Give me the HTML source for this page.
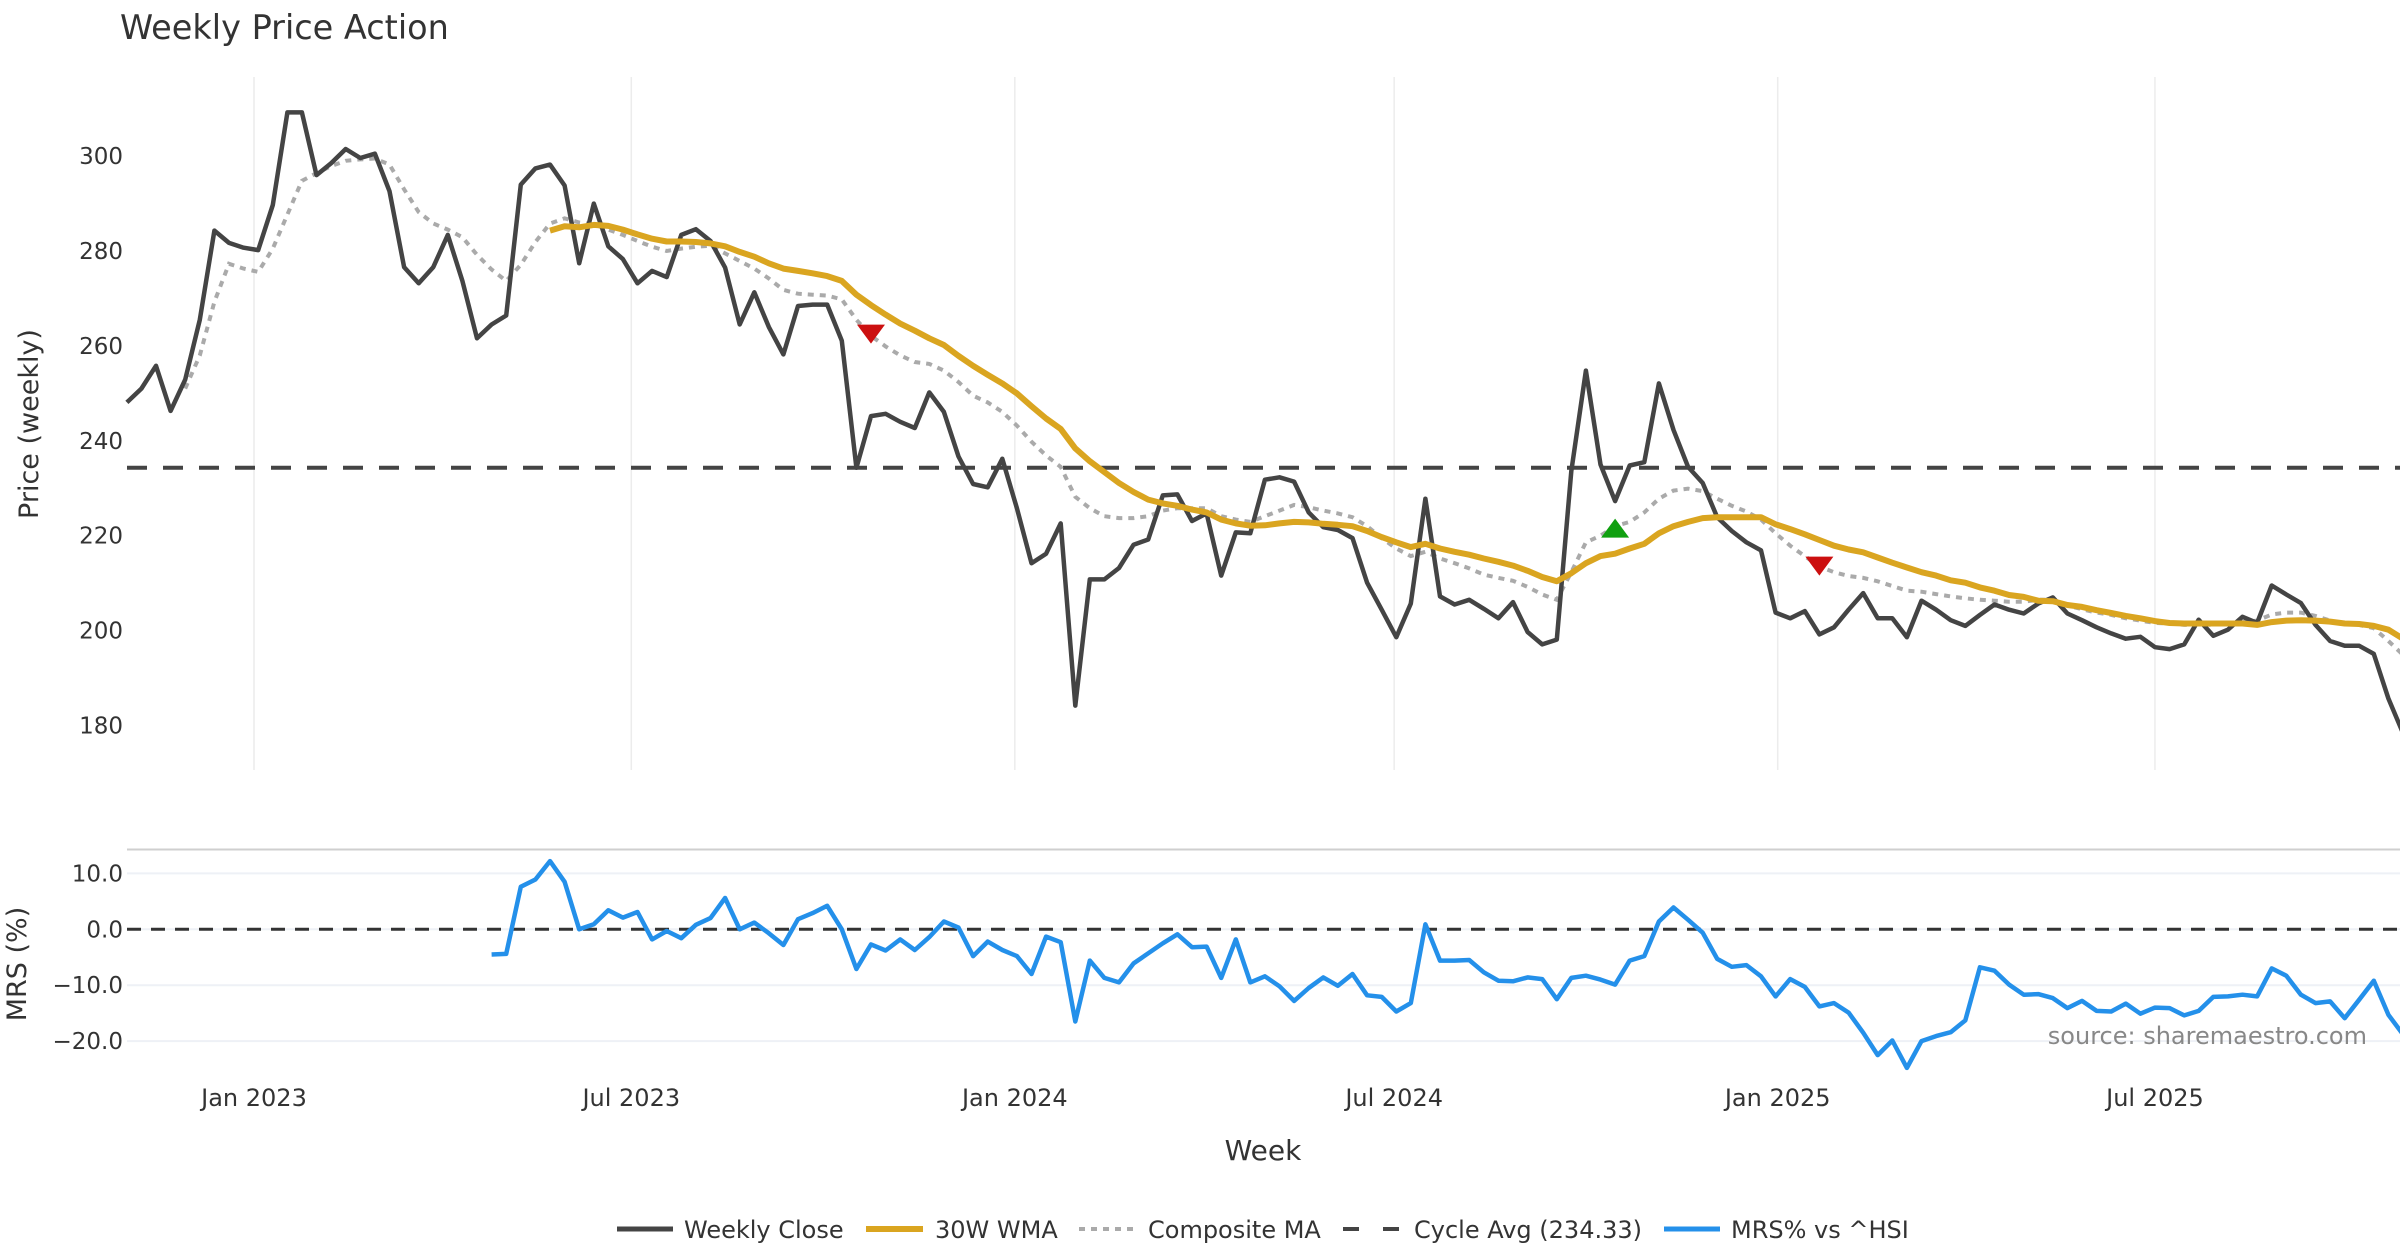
<!DOCTYPE html>
<html><head><meta charset="utf-8"><title>Weekly Price Action</title>
<style>
html,body{margin:0;padding:0;background:#fff;}
svg{display:block;font-family:"DejaVu Sans","Liberation Sans",sans-serif;}
</style></head>
<body>
<svg id="chart" width="2400" height="1260" viewBox="0 0 2400 1260" xmlns="http://www.w3.org/2000/svg">
<text x="120" y="39" font-size="33.5" fill="#333">Weekly Price Action</text>
<g id="grid"></g>
<g id="series"></g>
<g id="axes"></g>
<text transform="translate(38,424) rotate(-90)" text-anchor="middle" font-size="27" fill="#333">Price (weekly)</text>
<text transform="translate(26,964) rotate(-90)" text-anchor="middle" font-size="27" fill="#333">MRS (%)</text>
<text x="1263" y="1160" text-anchor="middle" font-size="28" fill="#333">Week</text>
<text x="2367" y="1044" text-anchor="end" font-size="24" fill="#888">source: sharemaestro.com</text>
<g id="legend">
 <g><line x1="617" y1="1229" x2="673" y2="1229" stroke="#444" stroke-width="5"/><text x="684" y="1238" font-size="24" fill="#333">Weekly Close</text></g>
 <g><line x1="866" y1="1229" x2="923" y2="1229" stroke="#DAA520" stroke-width="6"/><text x="935" y="1238" font-size="24" fill="#333">30W WMA</text></g>
 <g><line x1="1079" y1="1229" x2="1136" y2="1229" stroke="#aaa" stroke-width="4" stroke-dasharray="6,6"/><text x="1148" y="1238" font-size="24" fill="#333">Composite MA</text></g>
 <g><line x1="1343" y1="1229" x2="1399" y2="1229" stroke="#444" stroke-width="4" stroke-dasharray="16,24"/><text x="1414" y="1238" font-size="24" fill="#333">Cycle Avg (234.33)</text></g>
 <g><line x1="1664" y1="1229" x2="1720" y2="1229" stroke="#2490EA" stroke-width="5"/><text x="1731" y="1238" font-size="24" fill="#333">MRS% vs ^HSI</text></g>
</g>
</svg>
<script>
const startDate = "2022-11-01";
const closeValues = [248.1,251,255.8,246.3,252.9,265.5,284.3,281.7,280.7,280.2,289.7,309.2,309.2,296,298.5,301.5,299.6,300.5,292.6,276.6,273.2,276.6,283.4,273.7,261.6,264.5,266.4,294,297.4,298.2,293.8,277.4,290,281,278.3,273.2,275.8,274.5,283.4,284.6,282.1,276.5,264.5,271.3,264,258.2,268.4,268.7,268.7,261.1,234.3,245.2,245.7,244,242.7,250.2,246.1,236.7,230.9,230.2,236.2,225.8,214.2,216.2,222.6,184.2,210.8,210.8,213.2,218.1,219.2,228.5,228.7,223.1,224.7,211.6,220.7,220.5,231.8,232.3,231.4,224.9,221.8,221.2,219.5,210.1,204.4,198.6,205.7,227.8,207.2,205.5,206.5,204.6,202.6,206,199.7,197.1,198.1,233.6,254.8,235,227.3,234.8,235.5,252.1,242.3,234.5,231.1,223.9,221,218.6,216.9,203.8,202.6,204.1,199.2,200.7,204.4,207.9,202.6,202.6,198.6,206.3,204.4,202.2,201,203.3,205.5,204.4,203.6,205.7,207,203.6,202.2,200.7,199.4,198.3,198.7,196.5,196.1,197.1,202.3,198.9,200.2,202.9,201.6,209.5,207.6,205.8,201.2,197.8,196.8,196.8,195.1,185.7,178.4];
const wmaStart = 29;
const wmaValues = [284.3,285.2,285,285.5,285.3,284.5,283.5,282.6,282,282,281.9,281.6,281,279.8,278.8,277.4,276.3,275.8,275.3,274.7,273.7,270.8,268.6,266.6,264.7,263.2,261.6,260.2,257.9,255.8,253.9,252.1,250,247.3,244.7,242.5,238.4,235.7,233.4,231.1,229.2,227.6,226.8,226.3,225.5,224.9,223.4,222.6,222.1,222.2,222.6,222.9,222.8,222.5,222.3,222,221,219.7,218.6,217.6,218.3,217.3,216.6,216,215.2,214.5,213.7,212.6,211.3,210.4,212.1,214.2,215.7,216.2,217.3,218.3,220.5,222,222.9,223.7,223.9,223.9,223.9,223.9,222.4,221.4,220.3,219.1,217.9,217.1,216.5,215.4,214.3,213.3,212.3,211.6,210.6,210.1,209.1,208.4,207.5,207.1,206.3,206.2,205.4,205,204.3,203.7,203.1,202.6,202,201.6,201.5,201.5,201.5,201.5,201.5,201.2,201.8,202.1,202.2,202.1,201.9,201.5,201.4,201,200.2,198.3];
const compStart = 4;
const compValues = [251,258,269.3,277.3,276.3,275.6,280.5,287.7,294.8,296.4,297.9,299,299.3,299.5,298.2,293,288.2,285.8,284.5,282.9,279.2,276.1,273.7,277.1,281.9,285.8,286.9,286,285.6,284.5,283.4,282.1,280.9,280,280.5,280.9,281.1,279.5,277.9,276.3,274.2,271.8,271,270.8,270.6,269.8,265.5,262.1,259.9,258,256.6,256.2,254.8,252.4,249.5,248.1,246.1,243.2,239.8,236.9,234.5,228.2,225.8,224.1,223.7,223.7,224.1,225.3,225.8,225.8,225.8,224.1,223.4,222.9,224.1,225.3,226.5,226,225.3,224.7,223.9,222,219.5,217.3,215.7,216.6,215.2,214.2,213.1,211.8,211.1,210.5,209.2,207.6,206.5,212.3,218.6,220,222,222.9,224.9,227.8,229.5,229.9,229.4,227.8,226.3,225.1,223.4,220.5,217.9,215.7,213.5,212.3,211.5,211.1,210.4,209.4,208.4,208.2,207.7,207.2,206.8,206.5,206.3,206.1,206.1,206.5,206.5,205.3,204.5,203.8,203.3,202.6,202.1,201.6,201.5,201.2,201.3,201.2,201.6,201.8,202.1,203.4,203.8,203.8,203.1,202.1,201.4,201.2,200.5,197.8,194.9];
const mrsStart = 25;
const mrsValues = [-4.5,-4.4,7.6,8.9,12.2,8.5,0,0.9,3.4,2.1,3.1,-1.8,-0.3,-1.6,0.8,2,5.6,0,1.2,-0.7,-2.8,1.8,2.9,4.2,0,-7.1,-2.7,-3.8,-1.8,-3.7,-1.4,1.4,0.3,-4.8,-2.2,-3.7,-4.8,-8,-1.3,-2.3,-16.5,-5.6,-8.7,-9.5,-6.1,-4.3,-2.5,-0.9,-3.2,-3.1,-8.7,-1.8,-9.5,-8.4,-10.2,-12.8,-10.5,-8.6,-10.1,-8,-11.8,-12.1,-14.7,-13.2,0.9,-5.6,-5.6,-5.5,-7.7,-9.2,-9.3,-8.6,-8.9,-12.5,-8.7,-8.3,-9,-9.9,-5.6,-4.8,1.4,3.9,1.7,-0.6,-5.3,-6.7,-6.4,-8.4,-12,-8.9,-10.3,-13.8,-13.2,-14.9,-18.5,-22.5,-19.9,-24.8,-20,-19.1,-18.4,-16.3,-6.8,-7.4,-9.9,-11.7,-11.6,-12.3,-14.1,-12.8,-14.6,-14.7,-13.3,-15.1,-14,-14.1,-15.4,-14.6,-12.1,-12,-11.7,-12,-7,-8.3,-11.7,-13.2,-12.9,-15.9,-12.6,-9.2,-15.3,-18.8];
const cycleAvg = 234.33;
const signalIdx = [51,102,116];
const signalVal = [262.6,221.5,213.7];
const signalDir = ["down","up","down"];
const priceTicks = [180,200,220,240,260,280,300];
const mrsTicks = [-20,-10,0,10];
const mrsTickLabels = ["\u221220.0","\u221210.0","0.0","10.0"];
const xTickDates = ["2023-01-01","2023-07-01","2024-01-01","2024-07-01","2025-01-01","2025-07-01"];
const xTickLabels = ["Jan 2023","Jul 2023","Jan 2024","Jul 2024","Jan 2025","Jul 2025"];

const NS="http://www.w3.org/2000/svg";
const DAY=86400000, ORIGIN=Date.UTC(2023,0,1);
function xDate(ds){const p=ds.split("-");return 254+((Date.UTC(+p[0],+p[1]-1,+p[2])-ORIGIN)/DAY)*2.0844;}
const startX=xDate(startDate);
function xIdx(i){return startX+i*7*2.0844;}
function yP(v){return 156.1+(300-v)*4.745;}
function yM(v){return 929.3-v*5.59;}
function mk(tag,attrs,parent){const e=document.createElementNS(NS,tag);for(const k in attrs)e.setAttribute(k,attrs[k]);parent.appendChild(e);return e;}
const grid=document.getElementById("grid"),ser=document.getElementById("series"),axes=document.getElementById("axes");
const R=2400,L=127;

xTickDates.forEach((d,i)=>{const x=xDate(d);
 const g=mk("line",{x1:x,x2:x,y1:77,y2:770,stroke:"#ececec","stroke-width":1.5},grid);
 
 
 const t=mk("text",{x:x,y:1106,"text-anchor":"middle","font-size":24,fill:"#333"},axes);t.textContent=xTickLabels[i];
 
 
});
priceTicks.forEach(v=>{const t=mk("text",{x:123,y:yP(v)+8,"text-anchor":"end","font-size":23,fill:"#333"},axes);t.textContent=v;
 
 
});
mrsTicks.forEach((v,i)=>{
 const g=mk("line",{x1:L,x2:R,y1:yM(v),y2:yM(v),stroke:"#eef1f6","stroke-width":2},grid);
 
 
 const t=mk("text",{x:123,y:yM(v)+8,"text-anchor":"end","font-size":23,fill:"#333"},axes);t.textContent=mrsTickLabels[i];
 
 
});
const sep=mk("line",{x1:L,x2:R,y1:849.5,y2:849.5,stroke:"#cfcfcf","stroke-width":2},grid);



function path(vals,start,yf){return vals.map((v,i)=>(i?"L":"M")+xIdx(start+i).toFixed(1)+","+yf(v).toFixed(1)).join("");}
const cyc=mk("line",{x1:L,x2:R,y1:yP(cycleAvg),y2:yP(cycleAvg),stroke:"#444","stroke-width":4,"stroke-dasharray":"20,16"},ser);


const comp=mk("path",{d:path(compValues,compStart,yP),fill:"none",stroke:"#aaa","stroke-width":4,"stroke-dasharray":"6,6"},ser);


const cl=mk("path",{d:path(closeValues,0,yP),fill:"none",stroke:"#444","stroke-width":4.5,"stroke-linejoin":"round"},ser);


const wm=mk("path",{d:path(wmaValues,wmaStart,yP),fill:"none",stroke:"#DAA520","stroke-width":6,"stroke-linejoin":"round"},ser);


signalIdx.forEach((ix,i)=>{const x=xIdx(ix),y=yP(signalVal[i]);
 const pts=signalDir[i]==="down"?`${x-14},${y-9} ${x+14},${y-9} ${x},${y+10}`:`${x-14},${y+9} ${x+14},${y+9} ${x},${y-10}`;
 const p=mk("polygon",{points:pts,fill:signalDir[i]==="down"?"#CC1010":"#10A010"},ser);
 
 
});
const zl=mk("line",{x1:L,x2:R,y1:yM(0),y2:yM(0),stroke:"#333","stroke-width":3,"stroke-dasharray":"14,10"},ser);


const mr=mk("path",{d:path(mrsValues,mrsStart,yM),fill:"none",stroke:"#2490EA","stroke-width":4.5,"stroke-linejoin":"round"},ser);


</script>
</body></html>
